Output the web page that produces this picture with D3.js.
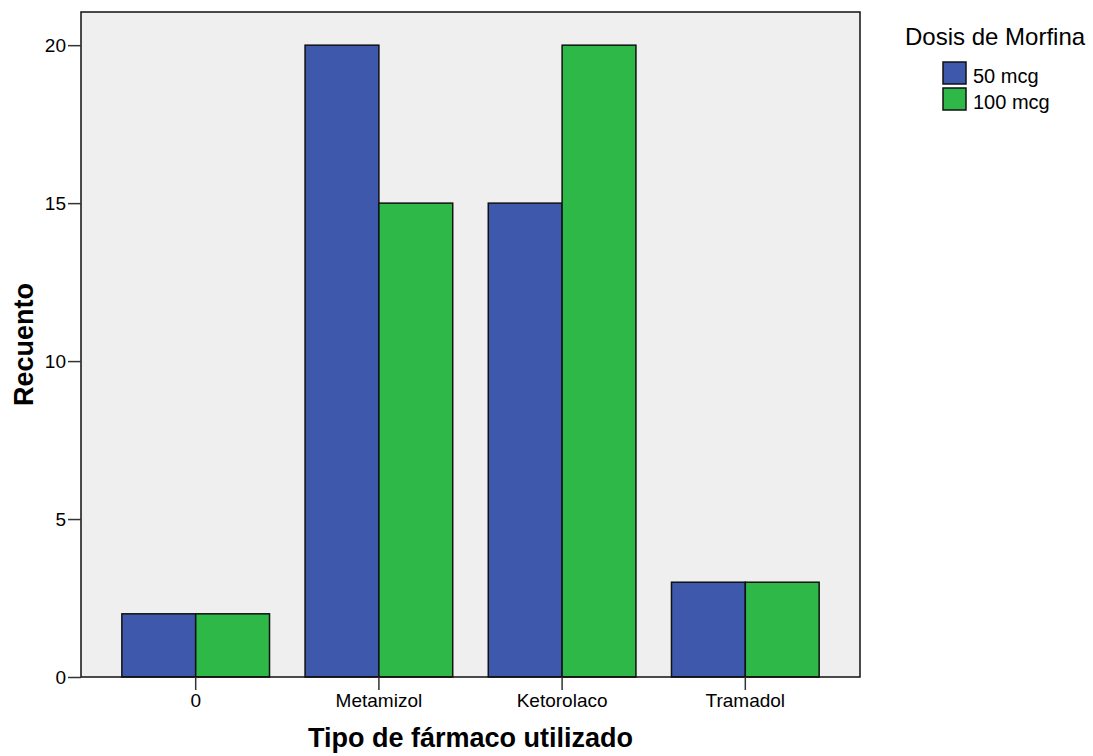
<!DOCTYPE html>
<html>
<head>
<meta charset="utf-8">
<script src="https://cdn.jsdelivr.net/npm/d3@7"></script>
<style>
  body { margin: 0; background: #fff; }
  svg text { font-family: "Liberation Sans", Arial, sans-serif; fill: #000; }
</style>
</head>
<body>
<script>
// Chart data
const categories = ['0', 'Metamizol', 'Ketorolaco', 'Tramadol'];
const seriesNames = ['50 mcg', '100 mcg'];
const dose50 = [2, 20, 15, 3];
const dose100 = [2, 15, 20, 3];
const yTicks = [0, 5, 10, 15, 20];
const colours = ['#3e58ac', '#2eb848'];

const width = 1093, height = 756;
const plot = { left: 81, right: 860, top: 12, bottom: 677 };

const svg = d3.select('body')
    .append('svg')
    .attr('width', width)
    .attr('height', height);

// build rows for the grouped bars
const rows = categories.map((c, i) => ({ cat: c, values: [dose50[i], dose100[i]] }));

// scales
const x = d3.scaleBand()
    .domain(categories)
    .range([plot.left, plot.right])
    .paddingInner(0.194)
    .paddingOuter(0.223);

const xSub = d3.scaleBand()
    .domain(seriesNames)
    .range([0, x.bandwidth()]);

const y = d3.scaleLinear()
    .domain([0, 21.05])
    .range([plot.bottom, plot.top]);

// plot background
svg.append('rect')
    .attr('x', plot.left)
    .attr('y', plot.top)
    .attr('width', plot.right - plot.left)
    .attr('height', plot.bottom - plot.top)
    .attr('fill', '#efefef');

// bars
svg.append('g')
    .selectAll('g')
    .data(rows)
    .join('g')
        .attr('transform', d => `translate(${x(d.cat)},0)`)
    .selectAll('rect')
    .data(d => d.values.map((v, i) => ({ key: seriesNames[i], value: v, i })))
    .join('rect')
        .attr('x', d => xSub(d.key))
        .attr('y', d => y(d.value))
        .attr('width', xSub.bandwidth())
        .attr('height', d => y(0) - y(d.value))
        .attr('fill', d => colours[d.i])
        .attr('stroke', '#111')
        .attr('stroke-width', 1.5);

// frame
svg.append('rect')
    .attr('x', plot.left)
    .attr('y', plot.top)
    .attr('width', plot.right - plot.left)
    .attr('height', plot.bottom - plot.top)
    .attr('fill', 'none')
    .attr('stroke', '#111')
    .attr('stroke-width', 1.5);

// y axis
const yAxis = svg.append('g')
    .attr('transform', `translate(${plot.left},0)`)
    .call(d3.axisLeft(y).tickValues(yTicks).tickSize(13).tickPadding(2));
yAxis.select('.domain').remove();
yAxis.selectAll('line').attr('stroke', '#333').attr('stroke-width', 1.5);
yAxis.selectAll('text')
    .attr('font-size', 19)
    .attr('font-family', '"Liberation Sans", Arial, sans-serif')
    .attr('fill', '#222');

// x axis
const xAxis = svg.append('g')
    .attr('transform', `translate(0,${plot.bottom})`)
    .call(d3.axisBottom(x).tickSize(13).tickPadding(4));
xAxis.select('.domain').remove();
xAxis.selectAll('line').attr('stroke', '#333').attr('stroke-width', 1.5);
xAxis.selectAll('text')
    .attr('font-size', 19)
    .attr('font-family', '"Liberation Sans", Arial, sans-serif')
    .attr('fill', '#222');

// axis titles
svg.append('text')
    .attr('x', (plot.left + plot.right) / 2)
    .attr('y', 747)
    .attr('text-anchor', 'middle')
    .attr('font-size', 27)
    .attr('font-weight', 'bold')
    .text('Tipo de fármaco utilizado');

svg.append('text')
    .attr('transform', `translate(33,${(plot.top + plot.bottom) / 2}) rotate(-90)`)
    .attr('text-anchor', 'middle')
    .attr('font-size', 27)
    .attr('font-weight', 'bold')
    .text('Recuento');

// legend
const legend = svg.append('g');
legend.append('text')
    .attr('x', 905)
    .attr('y', 45)
    .attr('font-size', 24)
    .text('Dosis de Morfina');

const item = legend.selectAll('g.item')
    .data(seriesNames)
    .join('g')
        .attr('class', 'item')
        .attr('transform', (_, i) => `translate(943,${62 + i * 26})`);

item.append('rect')
    .attr('width', 23)
    .attr('height', 22)
    .attr('fill', (_, i) => colours[i])
    .attr('stroke', '#111')
    .attr('stroke-width', 1.5);

item.append('text')
    .attr('x', 30)
    .attr('y', 21)
    .attr('font-size', 20)
    .text(d => d);
</script>
</body>
</html>
